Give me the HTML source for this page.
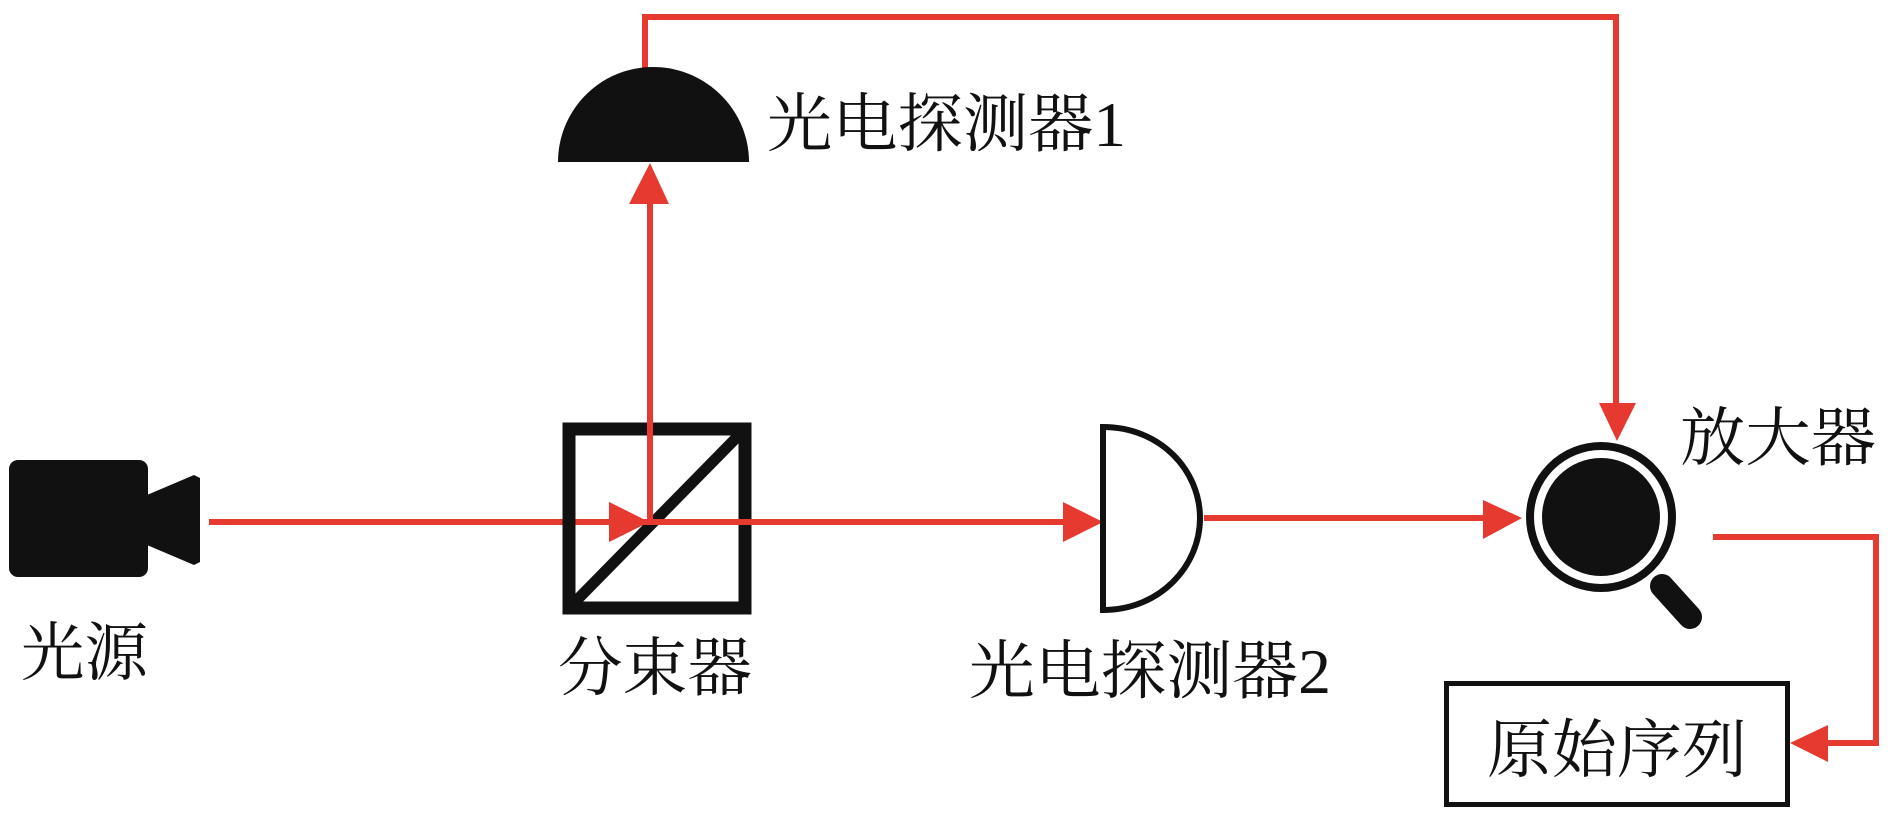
<!DOCTYPE html>
<html><head><meta charset="utf-8"><style>
html,body{margin:0;padding:0;background:#fff;}
svg{display:block;}
text{font-family:"Liberation Serif","Noto Serif CJK SC",serif;font-size:64px;fill:#111;}
</style></head><body>
<svg width="1890" height="818" viewBox="0 0 1890 818" xmlns="http://www.w3.org/2000/svg">
<g fill="#e63a30" stroke="none">
  <path d="M645 80 V17 H1616 V405" fill="none" stroke="#e63a30" stroke-width="6"/>
  <polygon points="1599,403 1636,403 1617,441"/>
  <rect x="647" y="200" width="6" height="324"/>
  <polygon points="629,204 669,204 650,163"/>
  <rect x="209" y="519" width="860" height="6"/>
  <polygon points="609,502 609,542 649,522"/>
  <polygon points="1063,502 1063,542 1103,522"/>
  <rect x="1204" y="515" width="285" height="6"/>
  <polygon points="1483,500 1483,539 1522,518"/>
  <path d="M1713 537 H1876 V743 H1825" fill="none" stroke="#e63a30" stroke-width="6"/>
  <polygon points="1828,725 1828,762 1790,743"/>
</g>
<rect x="9" y="460" width="139" height="117" rx="9" fill="#111"/>
<polygon points="147,495 194,475 200,478 200,562 194,565 147,545" fill="#111"/>
<path d="M558 162 C558 110 600 67 653 67 C706 67 749 110 749 162 Z" fill="#111"/>
<rect x="569" y="429" width="176" height="179" fill="none" stroke="#111" stroke-width="13"/>
<line x1="572" y1="605" x2="742" y2="432" stroke="#111" stroke-width="11"/>
<rect x="647" y="200" width="6" height="324" fill="#e63a30"/>
<rect x="609" y="519" width="460" height="6" fill="#e63a30"/>
<polygon points="609,502 609,542 649,522" fill="#e63a30"/>
<path d="M1103 427 C1160 427 1200 470 1200 518 C1200 566 1160 610 1103 610 Z" fill="#fff" stroke="#111" stroke-width="6"/>
<circle cx="1601" cy="517" r="71" fill="#fff" stroke="#111" stroke-width="8"/>
<circle cx="1601" cy="517" r="59" fill="#111"/>
<line x1="1662" y1="586" x2="1690" y2="617" stroke="#111" stroke-width="24" stroke-linecap="round"/>
<rect x="1446.5" y="683.5" width="341" height="121" fill="none" stroke="#111" stroke-width="5"/>
<text x="21" y="675" textLength="127" lengthAdjust="spacingAndGlyphs">光源</text>
<text x="558" y="690" textLength="194" lengthAdjust="spacingAndGlyphs">分束器</text>
<text x="767" y="146" textLength="359" lengthAdjust="spacingAndGlyphs">光电探测器1</text>
<text x="969" y="693" textLength="362" lengthAdjust="spacingAndGlyphs">光电探测器2</text>
<text x="1680" y="460" textLength="196" lengthAdjust="spacingAndGlyphs">放大器</text>
<text x="1487" y="772" textLength="260" lengthAdjust="spacingAndGlyphs">原始序列</text>
</svg>
</body></html>
